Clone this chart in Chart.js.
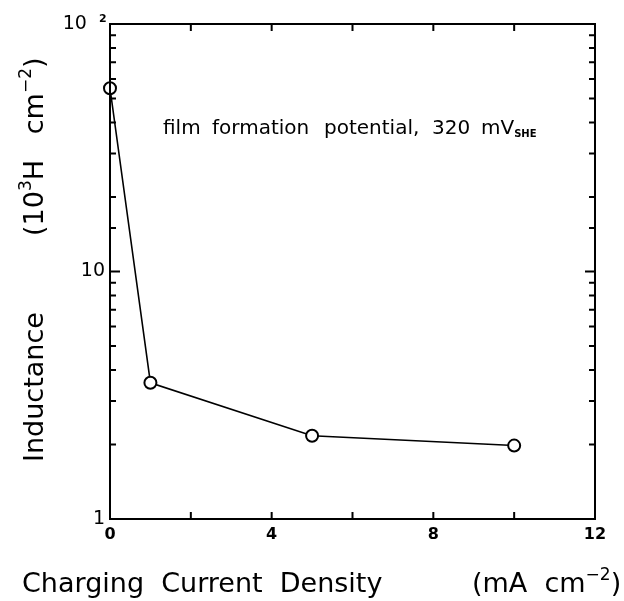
<!DOCTYPE html>
<html>
<head>
<meta charset="utf-8">
<script src="https://cdn.jsdelivr.net/npm/chart.js@4.4.1/dist/chart.umd.min.js"></script>
<style>
  html, body { margin: 0; padding: 0; background: #fff; }
  #wrap { width: 624px; height: 601px; position: relative; }
</style>
</head>
<body>
<div id="wrap"><canvas id="inductance-chart"></canvas></div>
<script>
// charging current density (mA cm^-2) and inductance (10^3 H cm^-2)
const currentDensity = [0, 1, 5, 10];
const inductance = [55, 3.55, 2.17, 1.98];
const xLabelValues = [0, 4, 8, 12];
const yLabelText = { 1: '1', 10: '10', 100: '10   ' };

const fontFace = '"DejaVu Sans", "Open Sans", sans-serif';

// draws pieces of text one after another, sup/sub pieces get a shift
function drawRun(ctx, parts, x, y) {
  parts.forEach(p => {
    ctx.font = p.font;
    ctx.fillText(p.text, x, y + (p.dy || 0));
    x += ctx.measureText(p.text).width;
  });
}

// box + inward ticks on all four sides, titles and note
const framePlugin = {
  id: 'frame',
  afterDraw(chart) {
    const ctx = chart.ctx;
    const a = chart.chartArea;
    const xs = chart.scales.x;
    const ys = chart.scales.y;
    ctx.save();
    ctx.strokeStyle = '#000';
    ctx.lineWidth = 2;
    ctx.strokeRect(a.left, a.top, a.right - a.left, a.bottom - a.top);

    ctx.beginPath();
    xs.ticks.forEach(t => {
      const px = xs.getPixelForValue(t.value);
      const len = 7;
      ctx.moveTo(px, a.bottom); ctx.lineTo(px, a.bottom - len);
      ctx.moveTo(px, a.top); ctx.lineTo(px, a.top + len);
    });
    ys.ticks.forEach(t => {
      const py = ys.getPixelForValue(t.value);
      const major = yLabelText[t.value] !== undefined;
      const len = major ? 10 : 6;
      ctx.moveTo(a.left, py); ctx.lineTo(a.left + len, py);
      ctx.moveTo(a.right, py); ctx.lineTo(a.right - len, py);
    });
    ctx.stroke();

    ctx.fillStyle = '#000';
    ctx.textBaseline = 'alphabetic';
    ctx.textAlign = 'left';

    // exponent of the top label "10 2"
    ctx.font = 'bold 11px ' + fontFace;
    ctx.fillText('2', 99, ys.getPixelForValue(100) - 2);

    // note inside plot
    ctx.font = '20px ' + fontFace;
    ctx.fillText('film', 163, 134);
    ctx.fillText('formation', 212, 134);
    ctx.fillText('potential,', 324, 134);
    ctx.fillText('320', 432, 134);
    ctx.fillText('mV', 481, 134);
    const mvW = ctx.measureText('mV').width;
    ctx.font = 'bold 10px ' + fontFace;
    ctx.fillText('SHE', 481 + mvW, 137);

    // x title
    const big = '27px ' + fontFace;
    const small = '17px ' + fontFace;
    ctx.font = big;
    ctx.fillText('Charging  Current  Density', 22, 592);
    drawRun(ctx, [
      { text: '(mA  cm', font: big },
      { text: '\u22122', font: small, dy: -12 },
      { text: ')', font: big }
    ], 472, 592);

    // y title
    ctx.translate(43, 0);
    ctx.rotate(-Math.PI / 2);
    ctx.font = big;
    ctx.fillText('Inductance', -462, 0);
    drawRun(ctx, [
      { text: '(10', font: big },
      { text: '3', font: small, dy: -12 },
      { text: 'H   cm', font: big },
      { text: '\u22122', font: small, dy: -12 },
      { text: ')', font: big }
    ], -236, 0);
    ctx.restore();
  }
};

const data = {
  datasets: [{
    label: 'Inductance',
    data: currentDensity.map((x, i) => ({ x: x, y: inductance[i] })),
    borderColor: '#000',
    borderWidth: 1.6,
    backgroundColor: '#fff',
    pointBackgroundColor: '#fff',
    pointBorderColor: '#000',
    pointBorderWidth: 2,
    pointRadius: 6,
    tension: 0,
    clip: false
  }]
};

const config = {
  type: 'line',
  data: data,
  options: {
    responsive: true,
    maintainAspectRatio: false,
    animation: false,
    layout: { padding: { left: 0, right: 29, top: 24, bottom: 0 } },
    plugins: {
      legend: { display: false },
      tooltip: { enabled: false }
    },
    scales: {
      x: {
        type: 'linear',
        min: 0,
        max: 12,
        grid: { display: false, drawTicks: false },
        border: { display: false },
        ticks: {
          stepSize: 2,
          autoSkip: false,
          maxRotation: 0,
          padding: 6,
          color: '#000',
          font: { family: fontFace, size: 16, weight: 'bold' },
          callback: v => xLabelValues.includes(v) ? String(v) : ''
        },
        afterFit: s => { s.height = 82; }
      },
      y: {
        type: 'logarithmic',
        min: 1,
        max: 100,
        grid: { display: false, drawTicks: false },
        border: { display: false },
        ticks: {
          autoSkip: false,
          padding: 5,
          color: '#000',
          font: { family: fontFace, size: 19 },
          callback: v => yLabelText[v] !== undefined ? yLabelText[v] : ''
        },
        afterFit: s => { s.width = 110; }
      }
    }
  },
  plugins: [framePlugin]
};

const myChart = new Chart(
  document.getElementById('inductance-chart'),
  config
);
</script>
</body>
</html>
